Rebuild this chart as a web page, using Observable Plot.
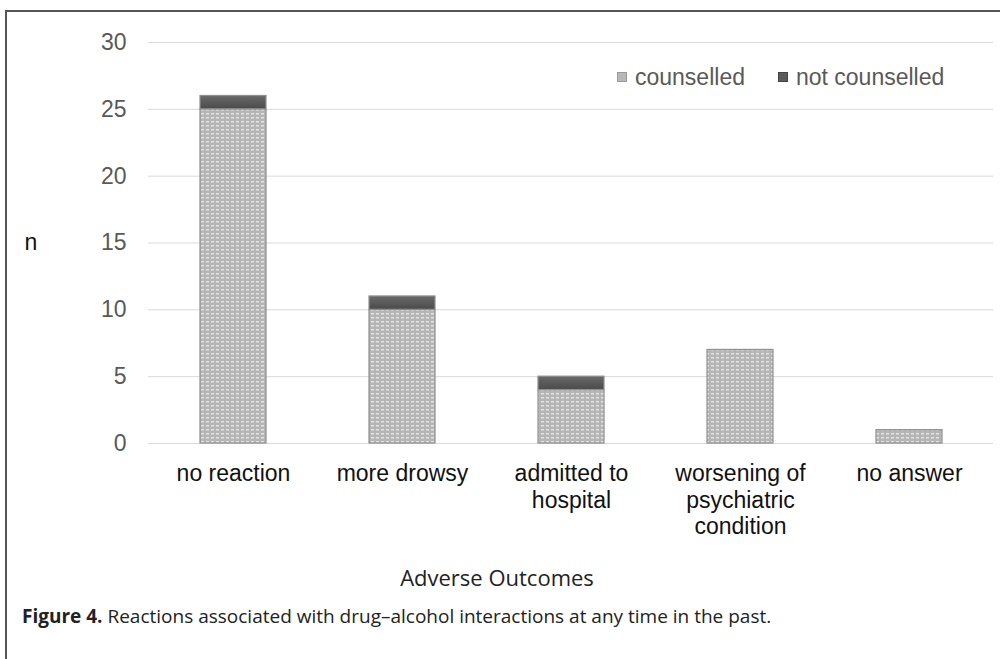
<!DOCTYPE html>
<html>
<head>
<meta charset="utf-8">
<script src="https://cdn.jsdelivr.net/npm/d3@7"></script>
<script src="https://cdn.jsdelivr.net/npm/@observablehq/plot@0.6"></script>
<style>
  html, body { margin: 0; padding: 0; background: #fff; }
  #wrap { position: relative; width: 1000px; height: 659px; overflow: hidden; }
  #frame { position: absolute; left: 5px; top: 10px; right: -5px; bottom: -5px;
           border-left: 2px solid #555; border-top: 2px solid #555; }
  #chart { position: absolute; left: 0; top: 0; }
  #legend { position: absolute; top: 64px; left: 617px; font: 23px "Liberation Sans", Arial, sans-serif; color: #595959; display: flex; gap: 33px; line-height: 26px; }
  #legend .item { display: flex; align-items: center; }
  #legend .sw { width: 8px; height: 8px; margin-right: 8px; display: inline-block; }
  #xtitle { position: absolute; left: 0; width: 994px; top: 562px; text-align: center;
            font: 22px "Open Sans", "Noto Sans", sans-serif; color: #222; line-height: 30px; }
  #caption { position: absolute; left: 22px; top: 602px; font: 19px "Open Sans", "Noto Sans", sans-serif; color: #222; white-space: nowrap; line-height: 28px; }
  #caption b { font-weight: 700; }
</style>
</head>
<body>
<div id="wrap">
  <div id="frame"></div>
  <div id="chart"></div>
  <div id="legend"></div>
  <div id="xtitle"></div>
  <div id="caption"></div>
</div>
<script>
// ---- data ----
const categories = ["no reaction", "more drowsy", "admitted to hospital", "worsening of psychiatric condition", "no answer"];
const categoryLabels = ["no reaction", "more drowsy", "admitted to\nhospital", "worsening of\npsychiatric\ncondition", "no answer"];
const series = ["counselled", "not counselled"];
const counselled = [25, 10, 4, 7, 1];
const notCounselled = [1, 1, 1, 0, 0];
const yTicks = [0, 5, 10, 15, 20, 25, 30];
const xTitle = "Adverse Outcomes";
const yTitle = "n";
const captionBold = "Figure 4.";
const captionText = " Reactions associated with drug–alcohol interactions at any time in the past.";

const rows = [];
categories.forEach((c, i) => {
  rows.push({category: c, series: series[0], value: counselled[i]});
  rows.push({category: c, series: series[1], value: notCounselled[i]});
});

const fills = ["url(#patCounselled)", "url(#gradNot)"];
const FONT = '"Liberation Sans", Arial, sans-serif';

const plot = Plot.plot({
  width: 1000,
  height: 545,
  marginTop: 42,
  marginBottom: 102,
  marginLeft: 148,
  marginRight: 7,
  style: {fontFamily: FONT, fontSize: "23px", background: "transparent"},
  x: {domain: categories, paddingInner: 0.61, paddingOuter: 0.305, label: null},
  y: {domain: [0, 30], label: null},
  color: {domain: series, range: fills},
  marks: [
    Plot.gridY(yTicks, {stroke: "#d9d9d9", strokeOpacity: 1, strokeWidth: 1}),
    Plot.barY(rows, {x: "category", y: "value", fill: "series", stroke: "#8f8f8f", strokeWidth: 1.2, order: series}),
    Plot.axisY(yTicks, {tickSize: 0, tickPadding: 22, fill: "#595959", fontSize: 23, fontFamily: FONT, label: null}),
    Plot.axisX({tickSize: 0, tickPadding: 18, fill: "#111", fontSize: 23, fontFamily: FONT, lineHeight: 1.17,
                tickFormat: d => categoryLabels[categories.indexOf(d)], label: null}),
    Plot.text([yTitle], {frameAnchor: "left", text: d => d, dx: -124, textAnchor: "start", fill: "#111", fontSize: 23, fontFamily: FONT})
  ]
});

// add defs for pattern fills
const svg = d3.select(plot);
const defs = svg.insert("defs", ":first-child");
const pat = defs.append("pattern").attr("id", "patCounselled").attr("patternUnits", "userSpaceOnUse")
  .attr("width", 5).attr("height", 4);
pat.append("rect").attr("width", 5).attr("height", 4).attr("fill", "#b5b5b5");
pat.append("rect").attr("x", 1).attr("y", 1).attr("width", 3).attr("height", 1.5).attr("fill", "#e3e3e3");
const grad = defs.append("linearGradient").attr("id", "gradNot").attr("x1", 0).attr("y1", 0).attr("x2", 0).attr("y2", 1);
grad.append("stop").attr("offset", "0%").attr("stop-color", "#6a6a6a");
grad.append("stop").attr("offset", "50%").attr("stop-color", "#5a5a5a");
grad.append("stop").attr("offset", "100%").attr("stop-color", "#4a4a4a");

document.getElementById("chart").appendChild(plot);

// legend
const legend = document.getElementById("legend");
const swatchColors = ["#b8b8b8", "#5c5c5c"];
series.forEach((s, i) => {
  const item = document.createElement("span");
  item.className = "item";
  const sw = document.createElement("span");
  sw.className = "sw";
  sw.style.background = swatchColors[i];
  sw.style.border = "1px solid " + (i ? "#444" : "#999");
  item.appendChild(sw);
  item.appendChild(document.createTextNode(s));
  legend.appendChild(item);
});

document.getElementById("xtitle").textContent = xTitle;
const cap = document.getElementById("caption");
const b = document.createElement("b");
b.textContent = captionBold;
cap.appendChild(b);
cap.appendChild(document.createTextNode(captionText));
</script>
</body>
</html>
